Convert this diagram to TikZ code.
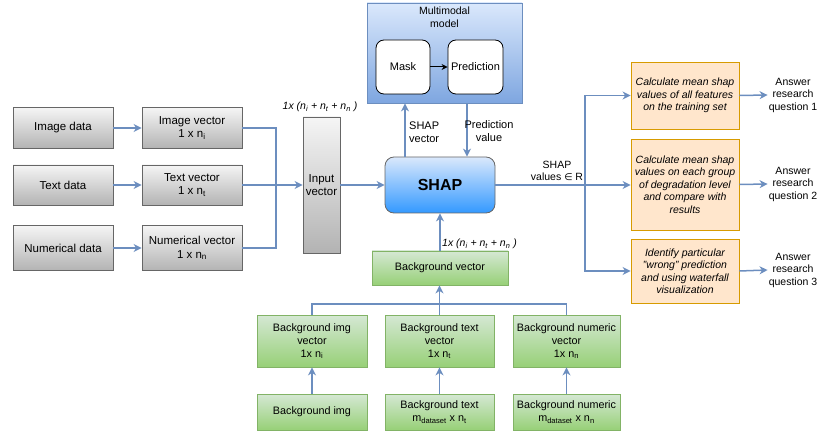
\documentclass[tikz,border=0pt]{standalone}
\usepackage{fontspec}
\setmainfont{Liberation Sans}
\newfontfamily\dejavu{DejaVu Sans}
\usetikzlibrary{arrows.meta}
\definecolor{lnc}{HTML}{6C8EBF}
\definecolor{gbd}{HTML}{666666}
\definecolor{gtop}{HTML}{F5F5F5}
\definecolor{gbot}{HTML}{B3B3B3}
\definecolor{bltop}{HTML}{DAE8FC}
\definecolor{blbot}{HTML}{7EA6E0}
\definecolor{shbot}{HTML}{3399FF}
\definecolor{gntop}{HTML}{D5E8D4}
\definecolor{gnbot}{HTML}{97D077}
\definecolor{gnbd}{HTML}{82B366}
\definecolor{orf}{HTML}{FFE6CC}
\definecolor{orbd}{HTML}{D79B00}
\tikzset{
  txt/.style={font=\fontsize{10.5}{12.5}\selectfont, align=center, inner sep=1pt},
  graybox/.style={txt, font=\fontsize{11.5}{13.5}\selectfont, draw=gbd, line width=0.8pt, top color=gtop, bottom color=gbot, minimum width=100pt},
  greenbox/.style={txt, font=\fontsize{10.8}{13}\selectfont, draw=gnbd, line width=0.8pt, top color=gntop, bottom color=gnbot},
  orangebox/.style={txt, draw=orbd, line width=0.8pt, fill=orf, minimum width=108pt, font=\fontsize{10.5}{12.5}\selectfont\itshape},
  itlab/.style={txt, font=\fontsize{10.5}{12}\selectfont\itshape},
  wline/.style={draw=lnc, line width=1.5pt},
  arr/.style={wline, -{Stealth[length=8pt,width=8pt,inset=2.5pt]}},
}
\begin{document}
\begin{tikzpicture}[x=1pt,y=-1pt]
\useasboundingbox (0,0) rectangle (823,433);
% left column
\node[graybox, minimum height=41pt] (imgd) at (63,128) {Image data};
\node[graybox, minimum height=40pt] (txtd) at (63,185) {Text data};
\node[graybox, minimum height=45pt] (numd) at (63,248) {Numerical data};
\node[graybox, minimum height=41pt] (imgv) at (192,128) {Image vector\\1 x n\textsubscript{i}};
\node[graybox, minimum height=40pt] (txtv) at (192,185) {Text vector\\1 x n\textsubscript{t}};
\node[graybox, minimum height=45pt] (numv) at (192,248) {Numerical vector\\1 x n\textsubscript{n}};
\node[graybox, minimum width=37pt, minimum height=136pt] (inp) at (321.5,185) {Input\\vector};
\node[itlab, anchor=south] (inplab) at (320,113) {1x (n\textsubscript{i} + n\textsubscript{t} + n\textsubscript{n} )};
% SHAP
\node[txt, draw=gbd, line width=0.8pt, top color=bltop, bottom color=shbot, rounded corners=9pt, minimum width=110pt, minimum height=56pt, font=\fontsize{16}{18}\selectfont\bfseries] (shap) at (440,185) {SHAP};
% multimodal
\node[draw=lnc, line width=0.8pt, top color=bltop, bottom color=blbot, minimum width=155pt, minimum height=100pt] (mm) at (444.5,53) {};
\node[txt, anchor=north] (mmlab) at (444.5,6) {Multimodal\\model};
\node[txt, font=\fontsize{11}{13}\selectfont, draw=black, line width=0.8pt, fill=white, rounded corners=8pt, minimum width=54pt, minimum height=54pt] (mask) at (403,67) {Mask};
\node[txt, font=\fontsize{11}{13}\selectfont, draw=black, line width=0.8pt, fill=white, rounded corners=8pt, minimum width=55pt, minimum height=54pt] (pred) at (475.5,67) {Prediction};
\draw[line width=1pt, -{Stealth[length=6pt,width=6pt]}] (mask.east) -- (pred.west);
% connectors left
\coordinate (busL) at (276,185);
\draw[arr] (imgd.east) -- (imgv.west);
\draw[arr] (txtd.east) -- (txtv.west);
\draw[arr] (numd.east) -- (numv.west);
\draw[wline] (imgv.east) -| (busL);
\draw[wline] (numv.east) -| (busL);
\draw[arr] (txtv.east) -- (inp.west);
\draw[arr] (inp.east) -- (shap.west);
% SHAP <-> model
\coordinate (svx) at (405,0);
\coordinate (pvx) at (467,0);
\draw[arr] (shap.north -| svx) -- (mm.south -| svx);
\draw[arr] (mm.south -| pvx) -- (shap.north -| pvx);
\node[txt, font=\fontsize{11}{13}\selectfont, align=left, anchor=west] (svlab) at (408,132) {SHAP\\vector};
\node[txt, font=\fontsize{11}{13}\selectfont] (pvlab) at (489,131) {Prediction\\value};
% orange
\node[orangebox, minimum height=67pt] (o1) at (685,95.5) {Calculate mean shap\\values of all features\\on the training set};
\node[orangebox, minimum height=91pt] (o2) at (685,184.5) {Calculate mean shap\\values on each group\\of degradation level\\and compare with\\results};
\node[orangebox, minimum height=64pt] (o3) at (685,271) {Identify particular\\"wrong" prediction\\and using waterfall\\visualization};
\node[txt] (a1) at (793,95) {Answer\\research\\question 1};
\node[txt] (a2) at (793,184) {Answer\\research\\question 2};
\node[txt] (a3) at (793,270) {Answer\\research\\question 3};
\coordinate (busR) at (585,184.5);
\draw[arr] (shap.east) -- (shap.east -| o2.west);
\draw[arr] (busR) |- (o1.west);
\draw[arr] (busR) |- (o3.west);
\node[txt] (svals) at (557,171) {SHAP\\values {\dejavu\fontsize{9.5}{11}\selectfont ∈} R};
\draw[arr] (o1.east) -- (a1.west);
\draw[arr] (o2.east) -- (a2.west);
\draw[arr] (o3.east) -- (a3.west);
% green
\node[greenbox, minimum width=136pt, minimum height=34pt] (bgv) at (440,268) {Background vector};
\node[itlab, anchor=south west] (bglab) at (441,250) {1x (n\textsubscript{i} + n\textsubscript{t} + n\textsubscript{n} )};
\node[greenbox, minimum width=110pt, minimum height=52pt] (bgiv) at (312,341) {Background img\\vector\\1x n\textsubscript{i}};
\node[greenbox, minimum width=109pt, minimum height=52pt] (bgtv) at (439.5,341) {Background text\\vector\\1x n\textsubscript{t}};
\node[greenbox, minimum width=107pt, minimum height=52pt] (bgnv) at (566.5,341) {Background numeric\\vector\\1x n\textsubscript{n}};
\node[greenbox, minimum width=110pt, minimum height=36pt] (bgi) at (312,412) {Background img};
\node[greenbox, minimum width=109pt, minimum height=36pt] (bgt) at (439.5,412) {Background text\\m\textsubscript{dataset} x n\textsubscript{t}};
\node[greenbox, minimum width=107pt, minimum height=36pt] (bgn) at (566.5,412) {Background numeric\\m\textsubscript{dataset} x n\textsubscript{n}};
\coordinate (busB) at (440,304);
\draw[wline] (bgiv.north) |- (busB) -| (bgnv.north);
\draw[arr] (bgtv.north) -- (bgv.south -| bgtv.north);
\draw[arr] (bgv.north -| shap.south) -- (shap.south);
\draw[arr] (bgi.north) -- (bgiv.south);
\draw[arr] (bgt.north) -- (bgtv.south);
\draw[arr] (bgn.north) -- (bgnv.south);
\end{tikzpicture}
\end{document}
